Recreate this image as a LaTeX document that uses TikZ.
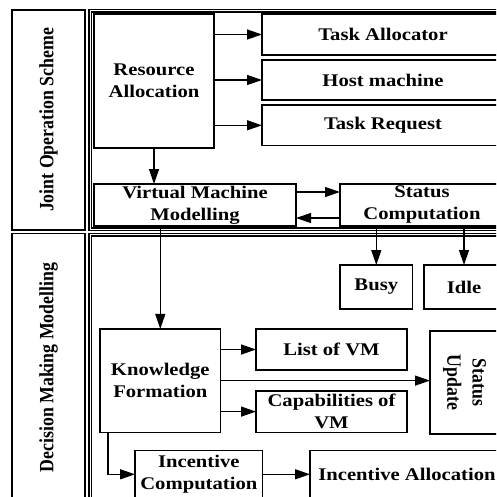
\documentclass[tikz,border=0pt]{standalone}
\usepackage{fontspec}
\setmainfont{Liberation Serif}
\newfontfamily\hfont{Liberation Serif}[FakeStretch=1.16]
\newfontfamily\vfont{Liberation Serif}
\usetikzlibrary{arrows.meta}
\begin{document}
\begin{tikzpicture}[x=1pt,y=-1pt,
  box/.style={draw, line width=1.3pt, inner sep=0pt, outer sep=0pt, align=center,
    font=\hfont\bfseries\fontsize{17.8}{22}\selectfont},
  vlabel/.style={inner sep=0pt, align=center, font=\vfont\bfseries\fontsize{17.8}{22}\selectfont},
  arr/.style={-{Triangle[length=15pt,width=10pt]}, line width=1.3pt},
  panel/.style={line width=1.1pt}]
\clip (0,0) rectangle (496,497);
% left column
\node[box, minimum width=73pt, minimum height=220pt] (jos) at (48.5,120) {};
\node[vlabel, rotate=90] (joslabel) at (48.5,120) {\scalebox{1}[1.14]{Joint Operation Scheme}};
\node[box, minimum width=73pt, minimum height=286.5pt] (dmm) at (48.5,376.75) {};
\node[vlabel, rotate=90] (dmmlabel) at (48.5,367.5) {\scalebox{1}[1.14]{Decision Making Modelling}};
% panels (double lines)
\draw[panel] (89,9.5) rectangle (520,230.5);
\draw[panel] (91.5,12) rectangle (520,228);
\draw[panel] (89,233.5) rectangle (520,520);
\draw[panel] (91.5,236) rectangle (520,520);
% top section
\node[box, minimum width=120pt, minimum height=134pt] (ra) at (154,81) {Resource\\Allocation};
\node[box, minimum width=242pt, minimum height=41pt] (ta) at (383,34.5) {Task Allocator};
\node[box, minimum width=242pt, minimum height=40pt] (hm) at (383,80) {Host machine};
\node[box, minimum width=242pt, minimum height=40.7pt] (tr) at (383,125.3) {Task Request};
\node[box, minimum width=202pt, minimum height=42pt] (vm) at (195,205) {Virtual Machine\\Modelling};
\node[box, minimum width=164pt, minimum height=42pt] (sc) at (422,205) {Status\\Computation};
% bottom section
\node[box, minimum width=72.7pt, minimum height=44pt] (busy) at (376.3,287) {Busy};
\node[box, minimum width=80pt, minimum height=44pt] (idle) at (464,287) {Idle};
\node[box, minimum width=120.7pt, minimum height=103.3pt] (kf) at (160.3,380.6) {Knowledge\\Formation};
\node[box, minimum width=151pt, minimum height=41pt] (lvm) at (331.5,349.5) {List of VM};
\node[box, minimum width=151pt, minimum height=41.3pt] (cap) at (331.5,411.6) {Capabilities of\\VM};
\node[box, minimum width=70pt, minimum height=103pt] (su) at (465,382.5) {};
\node[vlabel, rotate=-90] (sulabel) at (465,382.5) {\scalebox{1}[1.14]{\begin{tabular}{@{}c@{}}Status\\Update\end{tabular}}};
\node[box, minimum width=127.7pt, minimum height=47.2pt] (ic) at (198.85,474.3) {Incentive\\Computation};
\node[box, minimum width=194pt, minimum height=47.2pt] (ia) at (407,474.3) {Incentive Allocation};
% connectors
\draw[arr] (ra.east |- ta) -- (ta.west);
\draw[arr] (ra.east |- hm) -- (hm.west);
\draw[arr] (ra.east |- tr) -- (tr.west);
\draw[arr] (ra.south) -- (vm.north -| ra.south);
\draw[arr] ([yshift=13pt]vm.east) -- ([yshift=13pt]sc.west);
\draw[arr] ([yshift=-13pt]sc.west) -- ([yshift=-13pt]vm.east);
\draw[arr] (sc.south -| busy) -- (busy.north);
\draw[arr] (sc.south -| idle) -- (idle.north);
\draw[arr] (kf.north |- vm.south) -- (kf.north);
\draw[arr] (kf.east |- lvm) -- (lvm.west);
\draw[arr] (kf.east) -- (su.west |- kf.east);
\draw[arr] (kf.east |- cap) -- (cap.west);
\draw[arr] ([xshift=8pt]kf.south west) |- (ic.west);
\draw[arr] (ic.east) -- (ia.west |- ic.east);
\end{tikzpicture}
\end{document}
